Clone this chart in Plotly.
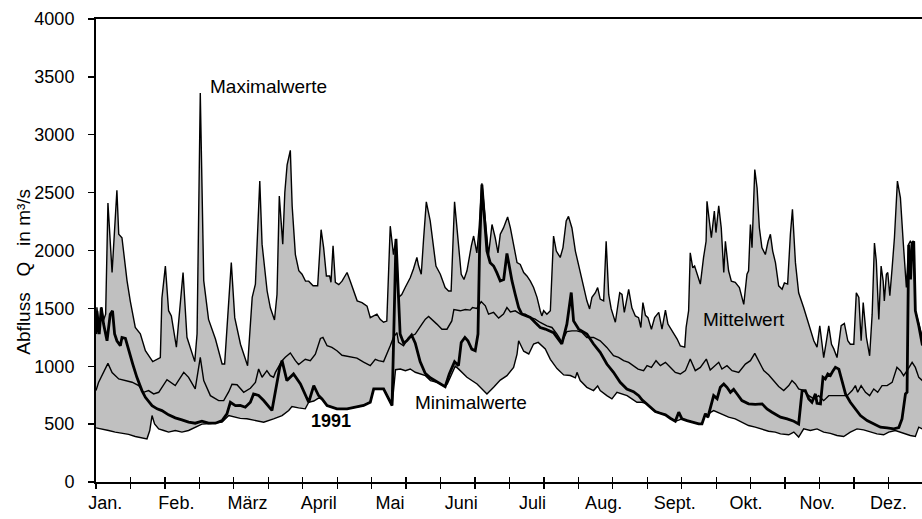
import plotly.graph_objects as go

# ---- data (day of year, discharge Q in m3/s) ----
MONTHS = ["Jan.", "Feb.", "März", "April", "Mai", "Juni", "Juli", "Aug.", "Sept.", "Okt.", "Nov.", "Dez."]

MAXIMAL = [(0,1300),(0.4,1510),(1.4,1300),(2.3,1510),(3.3,1400),(4.2,1450),(5.2,2410),(7.0,1810),(9.1,2520),(9.9,2140),
 (11.3,2110),(13.5,1740),(14.9,1565),(17.1,1335),(19.3,1280),(21.5,1135),(24.7,1040),(28.0,1075),(28.7,1590),(30.2,1865),
 (31.6,1480),(32.8,1435),(35.0,1165),(37.9,1810),(39.6,1250),(43.0,1040),(44.0,1280),(45.4,3360),(46.9,1740),(49.0,1405),
 (52.0,1235),(54.9,1020),(56.0,1020),(58.9,1895),(60.4,1420),(62.9,1190),(66.0,1005),(68.0,1595),(69.4,1710),(71.3,2600),
 (72.3,2055),(74.5,1650),(75.9,1505),(77.7,1400),(78.8,1620),(79.8,2470),(81.3,2055),(82.2,2500),(83.2,2740),(84.6,2865),
 (85.4,2385),(86.8,1965),(88.3,1825),(89.7,1795),(91.2,1735),(92.6,1735),(94.5,1695),(96.5,1695),(98.0,2180),(99.1,2025),
 (100.3,1780),(101.7,1780),(102.3,1725),(103.2,2040),(104.2,1725),(105.7,1705),(107.1,1735),(109.3,1810),(110.7,1735),
 (113.7,1565),(115.8,1550),(118.0,1520),(119.4,1420),(122.3,1450),(123.7,1405),(125.2,1380),(126.6,1390),(128.1,2210),
 (129.5,1965),(130.6,2100),(131.7,1595),(133.1,1620),(134.6,1680),(136.8,1765),(138.2,1840),(139.7,1940),(140.4,1870),
 (141.6,1795),(142.6,2095),(143.8,2420),(145.5,2255),(147.0,2025),(148.0,1865),(149.9,1795),(152.0,1680),(153.5,1650),
 (154.6,1650),(156.1,2420),(157.5,2140),(159.0,1795),(160.2,1750),(161.5,1825),(163.4,2040),(164.4,2125),(165.8,1980),
 (166.8,2200),(168.0,2580),(169.5,2225),(170.9,1965),(172.4,2225),(173.8,2110),(175.0,1980),(176.0,2140),(177.4,2195),
 (179.2,2290),(180.4,2195),(181.8,2055),(183.3,1895),(184.7,1880),(186.2,1810),(187.6,1780),(189.1,1735),(190.5,1680),
 (192.0,1595),(193.4,1480),(194.1,1435),(194.9,1480),(196.3,1450),(197.8,1480),(199.2,2125),(200.4,1995),(202.1,1940),
 (203.3,2025),(204.7,2255),(205.7,2295),(207.2,2195),(208.7,1995),(210.8,1810),(212.3,1665),(213.7,1565),(214.9,1495),
 (215.9,1595),(217.4,1635),(218.4,1680),(219.5,1580),(221.0,1565),(222.1,2080),(223.2,1620),(224.3,1495),(226.1,1380),
 (228.0,1635),(229.0,1620),(230.0,1465),(231.9,1665),(233.3,1505),(234.8,1435),(236.2,1420),(237.2,1335),(238.1,1550),
 (239.2,1440),(240.3,1420),(241.8,1320),(243.2,1420),(245.0,1465),(246.4,1320),(247.9,1485),(249.0,1365),(250.8,1305),
 (253.0,1235),(254.4,1175),(256.3,1165),(256.9,1335),(258.0,1480),(258.7,1980),(259.8,1850),(260.6,1865),(261.6,1810),
 (263.1,1710),(264.5,1940),(265.6,2080),(266.0,2425),(267.0,2225),(267.9,2110),(269.2,2340),(269.9,2155),(271.1,2385),
 (272.2,2195),(273.3,1810),(274.0,2080),(275.4,1825),(276.6,1735),(278.3,1725),(280.1,1680),(282.0,1535),(283.4,1795),
 (284.1,1825),(284.9,2225),(285.6,2025),(286.8,2700),(287.8,2540),(288.8,2195),(289.9,2025),(291.4,1965),(292.6,2080),
 (293.6,2140),(294.6,1995),(295.8,1895),(297.2,1695),(298.7,1665),(299.7,1720),(301.1,1710),(302.3,2140),(303.2,2355),
 (304.5,1895),(305.9,1635),(308.1,1505),(310.3,1365),(312.5,1220),(313.9,1165),(315.1,1350),(316.1,1190),(316.8,1075),
 (318.0,1220),(319.0,1350),(320.2,1190),(321.2,1150),(322.6,1075),(324.4,1350),(325.8,1370),(327.3,1220),(328.4,1190),
 (329.9,1190),(331.0,1635),(332.1,1595),(333.1,1220),(334.0,1550),(335.4,1250),(336.8,1090),(337.9,1450),(338.9,2065),
 (339.7,1910),(340.8,1405),(341.8,1865),(342.7,1735),(343.2,1565),(344.1,1795),(344.7,1810),(345.6,1610),(346.6,1850),
 (347.6,2110),(348.9,2600),(350.2,2455),(351.4,2080),(352.8,1680),(353.8,2055),(354.5,2080),(355.3,2060),(356.0,2080),
 (356.7,1480),(358.2,1365),(359.8,1250)]

MITTELWERT = [(0,790),(1.1,860),(5.2,1025),(7.0,945),(9.9,890),(13.5,876),(15.7,862),(18.6,833),(20.7,775),(22.9,790),
 (25.1,761),(27.3,775),(28.7,818),(30.9,884),(34.5,833),(38.2,947),(40.3,904),(43.2,804),(45.4,1077),(46.9,876),
 (49.8,746),(53.4,703),(55.6,703),(57.8,780),(59.2,845),(61.4,840),(64.3,775),(67.2,810),(69.4,861),(70.8,976),
 (72.3,905),(74.4,962),(75.9,919),(77.3,905),(78.1,947),(81.0,1048),(82.4,1077),(84.6,1115),(86.8,1048),(88.2,1015),
 (91.1,1060),(93.3,1048),(95.5,1105),(97.7,1240),(98.8,1249),(100.6,1177),(102.7,1163),(104.9,1134),(107.1,1095),
 (111.4,1077),(113.6,1070),(116.5,1036),(119.4,1005),(121.6,1060),(123.0,1048),(125.2,1040),(126.7,1120),(128.1,1177),
 (129.5,1249),(131.0,1290),(131.7,1206),(133.9,1177),(136.1,1249),(139.0,1278),(141.9,1364),(143.4,1407),(144.8,1430),
 (146.2,1407),(148.4,1364),(150.6,1320),(152.8,1320),(154.9,1392),(155.8,1490),(158.6,1479),(160.8,1490),(162.9,1485),
 (163.9,1507),(165.8,1500),(167.7,1559),(169.5,1522),(170.9,1450),(173.1,1465),(174.6,1436),(175.3,1416),(177.4,1450),
 (178.9,1507),(180.4,1470),(182.5,1479),(184.7,1450),(186.9,1450),(189.1,1421),(191.2,1407),(193.4,1378),(196.3,1349),
 (198.5,1335),(200.7,1278),(202.8,1210),(205.0,1300),(207.2,1306),(209.4,1306),(211.6,1292),(213.7,1249),(216.6,1249),
 (219.5,1220),(222.4,1163),(225.3,1091),(227.5,1077),(229.7,1048),(231.9,1034),(234.0,1005),(236.0,975),(238.4,962),
 (239.9,1005),(241.8,990),(243.8,1048),(245.7,1005),(247.9,1034),(250.0,991),(252.2,947),(254.4,933),(256.6,962),
 (258.7,1062),(260.9,962),(263.1,990),(265.7,1062),(267.4,968),(269.6,1005),(271.1,1034),(272.5,976),(274.7,1005),
 (276.9,962),(279.8,947),(282.7,1019),(284.9,1048),(286.8,1111),(288.5,1048),(290.7,962),(292.9,925),(295.0,875),
 (297.2,825),(299.4,790),(301.6,833),(303.0,876),(304.5,847),(305.9,804),(308.1,790),(310.3,746),(312.5,718),
 (314.6,746),(316.8,703),(319.0,746),(321.2,746),(324.1,746),(327.0,746),(329.2,790),(330.6,833),(331.6,775),
 (333.1,833),(335.0,775),(336.8,746),(338.6,804),(340.3,775),(342.2,833),(344.4,833),(346.6,861),(348.7,991),
 (350.2,962),(351.6,919),(353.1,962),(355.3,1034),(356.7,990),(358.2,904),(359.8,875)]

JAHR_1991 = [(0,1278),(0.4,1479),(1.4,1278),(2.3,1507),(3.3,1364),(4.8,1220),(6.2,1450),(7.2,1479),(8.1,1278),(9.1,1220),
 (10.6,1177),(11.3,1249),(12.8,1240),(14.2,1134),(16.0,1019),(17.8,904),(20.0,790),(21.5,732),(24.4,660),(26.6,632),
 (28.7,617),(31.6,580),(34.5,554),(37.4,537),(40.3,517),(43.2,508),(46.1,525),(49.0,508),(52.0,508),(54.9,531),
 (57.0,589),(58.5,689),(60.7,660),(62.8,661),(65.0,646),(67.2,689),(68.6,761),(70.8,747),(73.0,704),(76.6,618),
 (78.1,775),(80.0,991),(81.0,1048),(83.1,876),(86.0,933),(89.0,847),(92.6,689),(94.8,833),(96.9,747),(98.4,718),
 (100.6,661),(104.9,632),(109.3,632),(113.6,646),(116.5,661),(119.4,689),(120.9,804),(125.2,804),(128.9,661),
 (130.6,2100),(131.4,1737),(132.4,1278),(133.9,1200),(135.3,1220),(137.4,1270),(139.0,1200),(141.1,1040),(143.3,940),
 (145.5,900),(147.7,876),(149.9,850),(152.0,824),(153.8,933),(156.1,1040),(157.8,1005),(159.0,1206),(160.6,1249),
 (161.9,1220),(163.6,1148),(165.1,1134),(166.3,1278),(167.0,2024),(168.0,2570),(169.2,2225),(170.2,1995),(171.6,1895),
 (173.1,1866),(174.5,1809),(176.0,1737),(177.5,1750),(178.9,1975),(179.6,1900),(181.1,1737),(182.5,1622),(184.0,1507),
 (185.4,1450),(186.9,1436),(189.1,1421),(191.2,1378),(193.4,1335),(195.6,1321),(199.2,1290),(202.8,1192),(205.0,1364),
 (206.9,1637),(207.9,1392),(210.1,1321),(213.7,1278),(216.6,1192),(219.5,1120),(222.4,1019),(225.3,948),(228.2,861),
 (231.1,804),(234.0,780),(236.3,746),(237.7,710),(239.5,680),(242.0,632),(243.5,609),(245.7,594),(247.9,580),
 (250.0,551),(252.2,525),(253.7,603),(255.1,546),(257.3,531),(259.5,517),(262.4,502),(263.8,502),(265.3,589),
 (266.4,560),(267.4,632),(268.9,746),(270.4,720),(271.8,818),(273.3,847),(274.7,818),(276.2,775),(277.6,800),
 (279.1,760),(281.2,703),(284.1,675),(287.0,670),(290.0,675),(292.1,632),(294.3,603),(296.5,574),(298.0,560),
 (300.9,545),(303.8,525),(305.9,502),(307.4,790),(308.8,790),(310.3,718),(311.7,689),(313.2,761),(313.9,680),
 (315.4,675),(316.5,904),(317.5,890),(318.6,933),(319.7,920),(320.9,962),(321.9,991),(323.4,975),(324.8,876),
 (326.3,761),(328.4,689),(330.6,632),(332.8,574),(335.7,531),(338.6,502),(341.5,474),(344.4,468),(347.3,459),
 (349.5,470),(350.9,545),(352.4,761),(353.1,775),(353.8,2050),(354.6,1750),(355.3,2060),(356.0,2080),(356.7,1480),
 (358.2,1350),(359.8,1180)]

MINIMAL = [(0,468),(2.6,459),(5.5,445),(8.4,431),(11.3,422),(14.2,411),(17.1,393),(20.0,382),(22.2,373),(23.4,445),
 (24.4,574),(25.5,502),(27.3,459),(29.5,445),(31.6,431),(34.5,445),(37.4,431),(40.3,445),(43.2,474),(46.1,500),
 (49.8,505),(54.9,517),(57.8,574),(60.7,560),(62.8,550),(65.7,546),(70.1,531),(73.0,517),(77.3,546),(81.0,574),
 (83.9,618),(85.3,652),(88.2,640),(91.1,632),(92.6,689),(94.8,700),(96.9,725),(98.4,718),(100.6,661),(104.9,632),
 (109.3,632),(113.6,646),(116.5,661),(119.4,689),(120.9,804),(125.2,804),(128.9,661),(130.4,970),(132.5,976),
 (134.7,962),(136.8,976),(139.0,948),(141.2,933),(143.4,919),(145.6,876),(148.5,862),(150.5,840),(152.0,824),
 (153.0,850),(155.0,940),(156.4,1000),(157.9,975),(161.5,905),(165.9,847),(170.2,761),(173.1,818),(176.0,880),
 (178.9,919),(181.8,990),(183.3,1105),(184.0,1220),(186.2,1130),(188.4,1106),(190.5,1192),(192.5,1206),(195.6,1150),
 (197.8,1060),(200.7,980),(203.6,925),(206.5,920),(208.7,900),(209.4,947),(210.8,876),(213.7,818),(216.6,790),
 (218.4,830),(219.5,790),(222.4,746),(224.6,718),(226.8,775),(229.0,760),(231.2,746),(233.3,718),(235.5,689),
 (237.7,689),(239.5,680),(242.0,632),(243.5,609),(245.7,594),(247.9,580),(250.0,551),(252.2,525),(253.7,535),
 (255.1,546),(257.3,531),(259.5,517),(262.4,502),(263.8,502),(265.3,589),(266.4,560),(267.4,600),(268.9,617),
 (272.5,589),(275.4,560),(278.3,545),(281.2,517),(284.1,488),(287.0,474),(289.9,459),(292.8,439),(295.7,431),
 (298.0,416),(301.6,408),(303.8,431),(305.9,388),(308.1,459),(311.0,445),(313.9,459),(316.8,431),(319.7,420),
 (322.6,402),(325.5,393),(328.4,431),(331.3,459),(334.2,450),(337.1,431),(340.0,416),(342.9,408),(345.1,431),
 (348.0,445),(351.6,420),(354.5,402),(356.7,393),(358.2,474),(359.8,459)]

Y_TICKS = [0, 500, 1000, 1500, 2000, 2500, 3000, 3500, 4000]
X_TICK_STEP = 15      # tick marks every 15 days
LABEL_STEP = 31       # month labels every 31 days


def split(pairs):
    return [p[0] for p in pairs], [p[1] for p in pairs]


max_d, max_q = split(MAXIMAL)
mean_d, mean_q = split(MITTELWERT)
y91_d, y91_q = split(JAHR_1991)
min_d, min_q = split(MINIMAL)

FONT = "Liberation Sans, Arial, sans-serif"
XR = [0, 359.6]

fig = go.Figure()
# grey band between maxima and minima
fig.add_trace(go.Scatter(x=max_d + min_d[::-1], y=max_q + min_q[::-1], fill="toself",
                         fillcolor="#c0c0c0", line=dict(width=0), mode="lines", hoverinfo="skip"))
for d, q, w in [(max_d, max_q, 1.4), (min_d, min_q, 1.4), (mean_d, mean_q, 1.4), (y91_d, y91_q, 2.8)]:
    fig.add_trace(go.Scatter(x=d, y=q, mode="lines", line=dict(color="black", width=w), hoverinfo="skip"))
# empty traces so that the overlay axes (inner tick marks, month labels) are drawn
for ax in ("x2", "x3"):
    fig.add_trace(go.Scatter(x=[], y=[], xaxis=ax, yaxis="y", mode="lines", hoverinfo="skip"))

tick_days = list(range(0, 360, X_TICK_STEP))
label_days = [LABEL_STEP * i + 4 for i in range(12)]

fig.update_layout(
    width=922, height=519, autosize=False,
    margin=dict(l=96, r=0, t=19, b=37),
    paper_bgcolor="white", plot_bgcolor="white",
    showlegend=False, hovermode=False,
    font=dict(family=FONT, size=18, color="black"),
    xaxis=dict(range=XR, tickmode="array", tickvals=tick_days, ticks="outside", ticklen=5,
               tickwidth=1.3, tickcolor="black", showticklabels=False, showline=True,
               linewidth=2, linecolor="black", mirror=True, showgrid=False, zeroline=False),
    xaxis2=dict(overlaying="x", anchor="y", range=XR, tickmode="array", tickvals=tick_days,
                ticks="inside", ticklen=5, tickwidth=1.3, tickcolor="black", showticklabels=False,
                showline=False, showgrid=False, zeroline=False),
    xaxis3=dict(overlaying="x", anchor="y", range=XR, tickmode="array", tickvals=label_days,
                ticktext=MONTHS, ticks="", showline=False, showgrid=False, zeroline=False,
                tickfont=dict(family=FONT, size=18, color="black"), ticklabelstandoff=8),
    yaxis=dict(range=[0, 4000], tickmode="array", tickvals=Y_TICKS, ticks="outside", ticklen=6,
               tickwidth=1.3, tickcolor="black", showline=True, linewidth=2, linecolor="black",
               showgrid=False, zeroline=False, tickfont=dict(family=FONT, size=18, color="black"),
               ticklabelstandoff=10),
)

ann = dict(showarrow=False, font=dict(family=FONT, size=19, color="black"))
fig.add_annotation(text="Abfluss\u00a0\u00a0\u00a0Q\u00a0\u00a0\u00a0in m³/s", textangle=-90, xref="paper", yref="y",
                   x=-0.088, y=1820, xanchor="center", yanchor="middle", **ann)
fig.add_annotation(text="Maximalwerte", xref="x", yref="y", x=75, y=3420, xanchor="center", yanchor="middle", **ann)
fig.add_annotation(text="Mittelwert", xref="x", yref="y", x=282.3, y=1400, xanchor="center", yanchor="middle", **ann)
fig.add_annotation(text="Minimalwerte", xref="x", yref="y", x=163.4, y=690, xanchor="center", yanchor="middle", **ann)
fig.add_annotation(text="<b>1991</b>", xref="x", yref="y", x=102.4, y=525, xanchor="center", yanchor="middle",
                   showarrow=False, font=dict(family=FONT, size=18, color="black"))

fig.write_html("out.html", config={"displayModeBar": False, "staticPlot": True},
               post_script="document.body.style.margin='0';document.body.style.overflow='hidden';")
